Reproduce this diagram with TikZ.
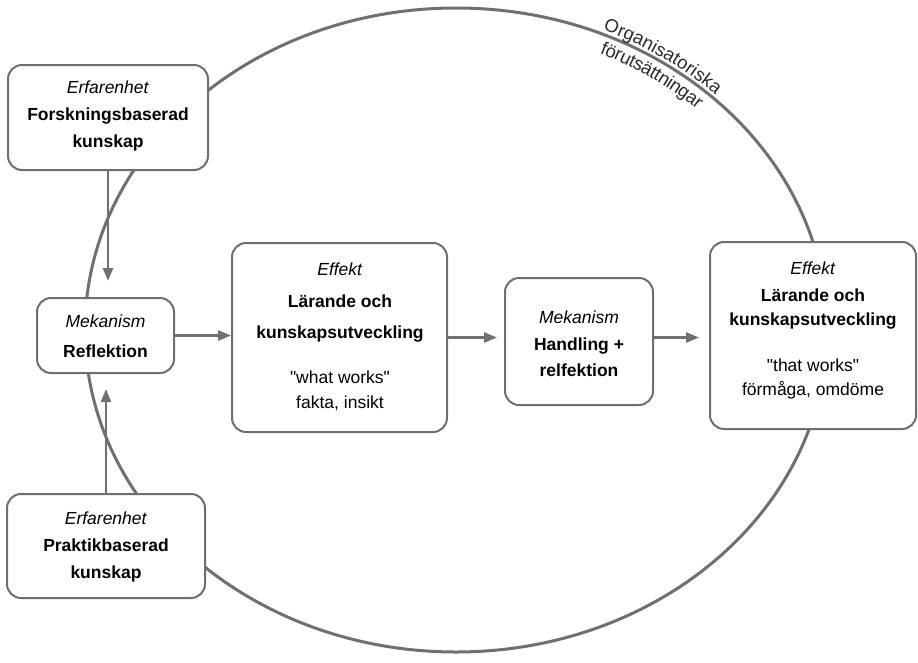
\documentclass[tikz,border=0pt]{standalone}
\usepackage{fontspec}
\setmainfont{Liberation Sans}
\newfontfamily\qfont{Liberation Sans}
\usetikzlibrary{arrows.meta,decorations.text}
\definecolor{linegray}{HTML}{707070}
\definecolor{boxgray}{HTML}{6E6E6E}
\definecolor{softblack}{HTML}{2A2A2A}
\newcommand{\arcfont}{\fontsize{18.5}{22}\selectfont\color{softblack}}
\begin{document}
\begin{tikzpicture}[x=1pt,y=-1pt,
  box/.style={draw=boxgray, fill=white, line width=2pt, rounded corners=14pt, inner sep=0pt},
  lbl/.style={align=center, inner sep=0pt},
  conn/.style={draw=linegray, line width=2.4pt, -{Triangle[length=13pt,width=10pt]}},
  ring/.style={draw=linegray, line width=3pt},
]
\useasboundingbox (0,0) rectangle (918,662);

% organisational frame
\coordinate (oc) at (456,330);
\draw[ring] (oc) ellipse [x radius=371, y radius=322];

% label along the frame
\path[decorate, decoration={text along path, text align=center, raise=4pt,
  text={|\arcfont|Organisatoriska}}]
  (oc) ++(-81:371 and 322) arc[start angle=-81, end angle=-31, x radius=371, y radius=322];
\path[decorate, decoration={text along path, text align=center, raise=-19pt,
  text={|\arcfont|förutsättningar}}]
  (oc) ++(-81:371 and 322) arc[start angle=-81, end angle=-31, x radius=371, y radius=322];

% boxes
\node[box, minimum width=200pt, minimum height=105pt] (b1) at (108,117.5) {};
\node[box, minimum width=137pt, minimum height=75pt]  (b2) at (105.5,335.5) {};
\node[box, minimum width=198pt, minimum height=104pt] (b3) at (106,546) {};
\node[box, minimum width=215pt, minimum height=189pt] (b4) at (339.5,337.5) {};
\node[box, minimum width=148pt, minimum height=127pt] (b5) at (579,341.5) {};
\node[box, minimum width=206pt, minimum height=187pt] (b6) at (813,335.5) {};

% texts
\node[lbl, font=\fontsize{17.5}{27}\selectfont] (t1) at (108,116)
  {\textit{Erfarenhet}\\ \textbf{Forskningsbaserad}\\ \textbf{kunskap}};
\node[lbl, font=\fontsize{17.5}{30}\selectfont] (t2) at (105.5,336)
  {\textit{Mekanism}\\ \textbf{Reflektion}};
\node[lbl, font=\fontsize{17.5}{27}\selectfont] (t3) at (106,546.5)
  {\textit{Erfarenhet}\\ \textbf{Praktikbaserad}\\ \textbf{kunskap}};
\node[lbl, font=\fontsize{17.5}{25}\selectfont] (t4) at (340,336.5)
  {\textit{Effekt}\\[7pt] \textbf{Lärande och}\\[6pt] \textbf{kunskapsutveckling}\\[20pt]
   {\qfont "what works"}\\ fakta, insikt};
\node[lbl, font=\fontsize{17.5}{26.5}\selectfont] (t5) at (579,344)
  {\textit{Mekanism}\\ \textbf{Handling +}\\ \textbf{relfektion}};
\node[lbl, font=\fontsize{17.5}{24}\selectfont] (t6) at (813,330)
  {\textit{Effekt}\\[3pt] \textbf{Lärande och}\\ \textbf{kunskapsutveckling}\\[22pt]
   {\qfont "that works"}\\ förmåga, omdöme};

% connectors
\draw[conn, shorten >=16pt] (b1.south) -- (b1.south |- b2.north);
\draw[conn, shorten >=15pt] (b3.north) -- (b3.north |- b2.south);
\draw[conn] (b2.east) -- (b2.east -| b4.west);
\draw[conn, shorten >=7pt] (b4.east) -- (b4.east -| b5.west);
\draw[conn, shorten >=10pt] (b5.east |- b4.east) -- (b6.west |- b4.east);
\end{tikzpicture}
\end{document}
